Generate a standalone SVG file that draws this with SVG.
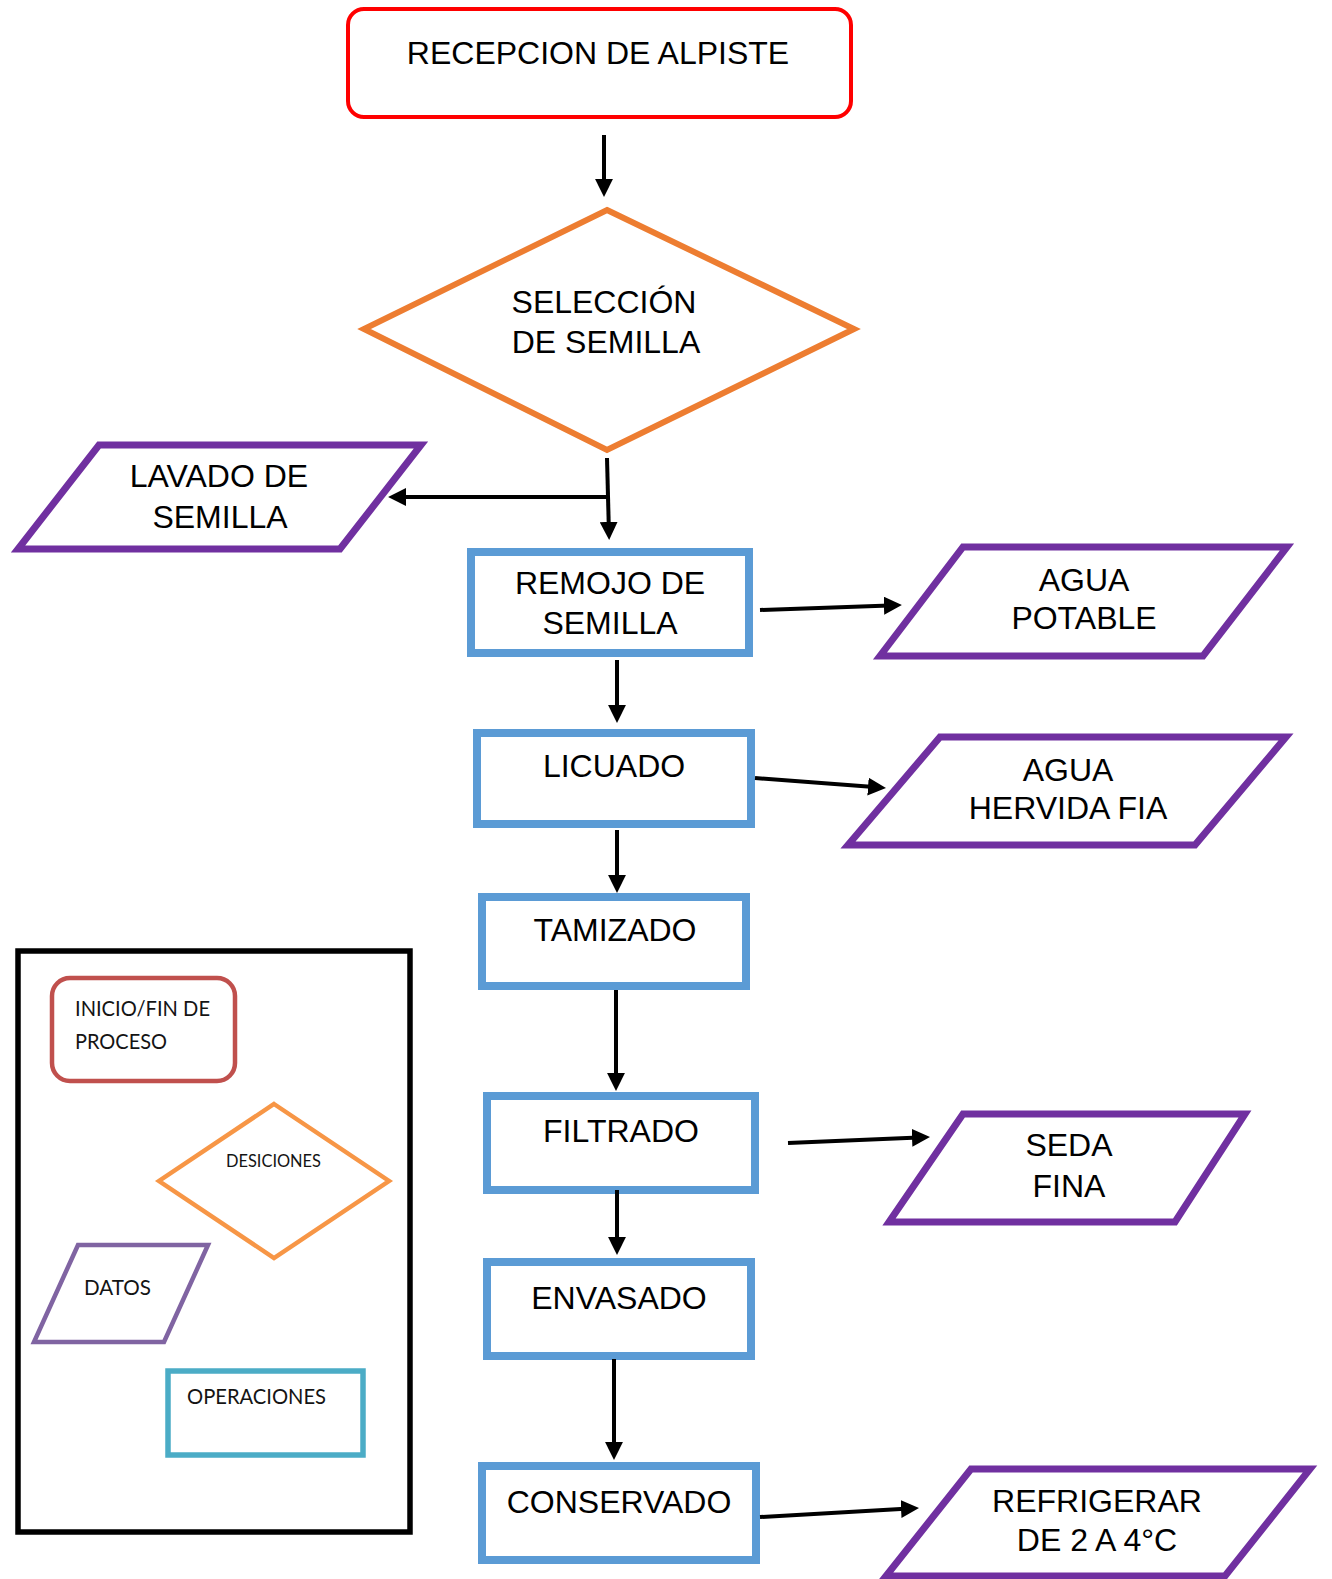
<svg xmlns="http://www.w3.org/2000/svg" width="1332" height="1579" viewBox="0 0 1332 1579">
  <defs>
    <marker id="arrow" viewBox="0 0 10 10" refX="7" refY="5" markerWidth="4.5" markerHeight="4.5" orient="auto" markerUnits="strokeWidth">
      <path d="M0,0 L10,5 L0,10 z" fill="#000"/>
    </marker>
    <style>
      .t { font-family: "Liberation Sans", Arial, sans-serif; font-size: 32px; fill: #000; text-anchor: middle; }
      .lg { font-family: Lato, "Open Sans", sans-serif; fill: #141414; }
      .start { fill: #fff; stroke: #ff0000; stroke-width: 4; }
      .decision { fill: #fff; stroke: #ed7d31; stroke-width: 6; stroke-linejoin: miter; }
      .data { fill: #fff; stroke: #7030a0; stroke-width: 7; stroke-linejoin: miter; }
      .op { fill: #fff; stroke: #5b9bd5; stroke-width: 8; }
      .conn { stroke: #000; stroke-width: 4; fill: none; }
      .conn-arrow { stroke: #000; stroke-width: 4; fill: none; marker-end: url(#arrow); }
    </style>
  </defs>

  <rect width="1332" height="1579" fill="#fff"/>

  <!-- main flow -->
  <g id="recepcion">
    <rect class="start" x="348" y="9" width="503" height="108" rx="16"/>
    <text class="t" x="598" y="64">RECEPCION DE ALPISTE</text>
  </g>

  <g id="seleccion">
    <polygon class="decision" points="607,210 854,329 607,450 364,329"/>
    <text class="t" x="604" y="313">SELECCIÓN</text>
    <text class="t" x="606" y="353">DE SEMILLA</text>
  </g>

  <g id="lavado">
    <polygon class="data" points="99,445 421,445 340,549 18,549"/>
    <text class="t" x="219" y="487">LAVADO DE</text>
    <text class="t" x="220" y="528">SEMILLA</text>
  </g>

  <g id="remojo">
    <rect class="op" x="471" y="552" width="278" height="101"/>
    <text class="t" x="610" y="594">REMOJO DE</text>
    <text class="t" x="610" y="634">SEMILLA</text>
  </g>

  <g id="agua-potable">
    <polygon class="data" points="963,547 1287,547 1203,656 880,656"/>
    <text class="t" x="1084" y="591">AGUA</text>
    <text class="t" x="1084" y="629">POTABLE</text>
  </g>

  <g id="licuado">
    <rect class="op" x="477" y="733" width="274" height="91"/>
    <text class="t" x="614" y="777">LICUADO</text>
  </g>

  <g id="agua-hervida">
    <polygon class="data" points="940,737 1286,737 1195,845 848,845"/>
    <text class="t" x="1068" y="781">AGUA</text>
    <text class="t" x="1068" y="819">HERVIDA FIA</text>
  </g>

  <g id="tamizado">
    <rect class="op" x="482" y="897" width="264" height="89"/>
    <text class="t" x="615" y="941">TAMIZADO</text>
  </g>

  <g id="filtrado">
    <rect class="op" x="487" y="1096" width="268" height="94"/>
    <text class="t" x="621" y="1142">FILTRADO</text>
  </g>

  <g id="seda-fina">
    <polygon class="data" points="963,1114 1245,1114 1175,1222 889,1222"/>
    <text class="t" x="1069" y="1156">SEDA</text>
    <text class="t" x="1069" y="1197">FINA</text>
  </g>

  <g id="envasado">
    <rect class="op" x="487" y="1262" width="264" height="94"/>
    <text class="t" x="619" y="1309">ENVASADO</text>
  </g>

  <g id="conservado">
    <rect class="op" x="482" y="1466" width="274" height="94"/>
    <text class="t" x="619" y="1513">CONSERVADO</text>
  </g>

  <g id="refrigerar">
    <polygon class="data" points="971,1469 1310,1469 1225,1576 886,1576"/>
    <text class="t" x="1097" y="1512">REFRIGERAR</text>
    <text class="t" x="1097" y="1551">DE 2 A 4°C</text>
  </g>

  <!-- connectors -->
  <g id="connectors">
    <line class="conn-arrow" x1="604" y1="135" x2="604" y2="191.5"/>
    <line class="conn-arrow" x1="607" y1="458" x2="609" y2="534.5"/>
    <line class="conn-arrow" x1="609" y1="497" x2="393.5" y2="497"/>
    <line class="conn-arrow" x1="617" y1="660" x2="617" y2="717.5"/>
    <line class="conn-arrow" x1="760" y1="610" x2="896.5" y2="605.2"/>
    <line class="conn-arrow" x1="755" y1="778" x2="880.6" y2="787.6"/>
    <line class="conn-arrow" x1="617" y1="830" x2="617" y2="887.5"/>
    <line class="conn-arrow" x1="616" y1="990" x2="616" y2="1085.5"/>
    <line class="conn-arrow" x1="788" y1="1143" x2="924.6" y2="1137.2"/>
    <line class="conn-arrow" x1="617" y1="1190" x2="617" y2="1249.5"/>
    <line class="conn-arrow" x1="614" y1="1359" x2="614" y2="1454.5"/>
    <line class="conn-arrow" x1="760" y1="1517" x2="913.6" y2="1508.3"/>
  </g>

  <!-- legend -->
  <g id="legend">
    <rect x="18" y="951" width="392" height="581" fill="#fff" stroke="#000" stroke-width="5.5"/>
  </g>

  <g id="legend-inicio">
    <rect x="52" y="978" width="183" height="103" rx="18" fill="#fff" stroke="#c0504d" stroke-width="4.5"/>
    <text class="lg" x="75" y="1016" font-size="22" textLength="135" lengthAdjust="spacingAndGlyphs">INICIO/FIN DE</text>
    <text class="lg" x="75" y="1049" font-size="22" textLength="92" lengthAdjust="spacingAndGlyphs">PROCESO</text>
  </g>

  <g id="legend-decision">
    <polygon points="274,1104 389,1181 274,1258 159,1181" fill="#fff" stroke="#f79646" stroke-width="4.5"/>
    <text class="lg" x="226" y="1167" font-size="17" textLength="95" lengthAdjust="spacingAndGlyphs">DESICIONES</text>
  </g>

  <g id="legend-datos">
    <polygon points="78,1245 208,1245 164,1342 34,1342" fill="#fff" stroke="#8064a2" stroke-width="4.5"/>
    <text class="lg" x="84" y="1295" font-size="21" textLength="67" lengthAdjust="spacingAndGlyphs">DATOS</text>
  </g>

  <g id="legend-operaciones">
    <rect x="168" y="1371" width="195" height="84" fill="#fff" stroke="#4bacc6" stroke-width="5.5"/>
    <text class="lg" x="187" y="1404" font-size="21" textLength="139" lengthAdjust="spacingAndGlyphs">OPERACIONES</text>
  </g>
</svg>
